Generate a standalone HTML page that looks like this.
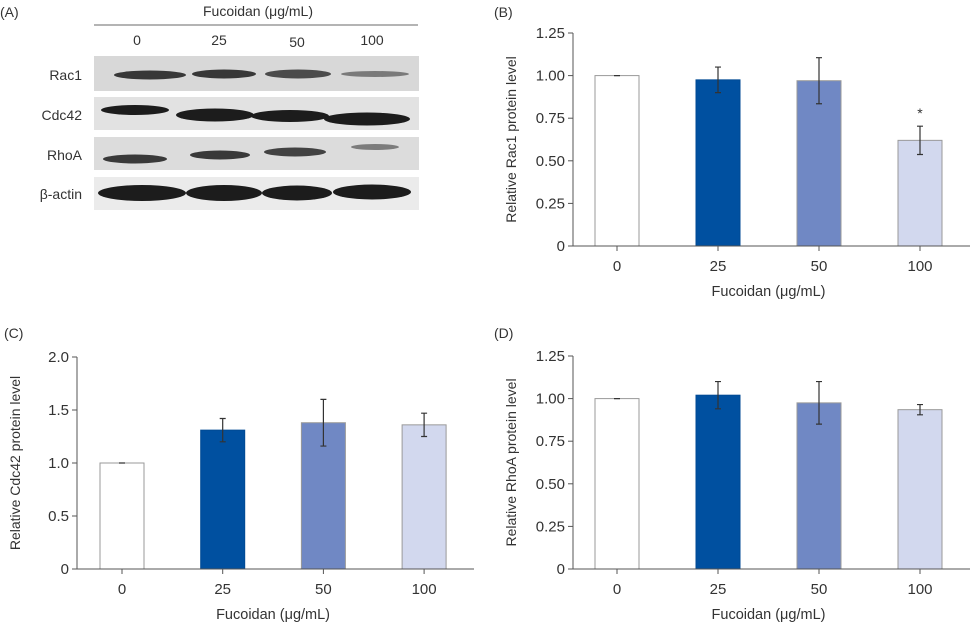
<!DOCTYPE html>
<html><head><meta charset="utf-8"><style>
body{margin:0;background:#fff;width:972px;height:624px;overflow:hidden;font-family:"Liberation Sans",sans-serif;}
svg text{font-family:"Liberation Sans",sans-serif;fill:#333;}
</style></head><body>
<svg id="fig" width="972" height="624" xmlns="http://www.w3.org/2000/svg">
<g>
<text x="0" y="17" font-size="14">(A)</text>
<text x="258" y="16" font-size="14" text-anchor="middle">Fucoidan (μg/mL)</text>
<line x1="94" y1="25" x2="418" y2="25" stroke="#888" stroke-width="1.2"/>
<text x="137" y="45" font-size="14" text-anchor="middle">0</text>
<text x="219" y="45" font-size="14" text-anchor="middle">25</text>
<text x="297" y="47" font-size="14" text-anchor="middle">50</text>
<text x="372" y="45" font-size="14" text-anchor="middle">100</text>
<text x="82" y="80" font-size="14" text-anchor="end">Rac1</text>
<text x="82" y="120" font-size="14" text-anchor="end">Cdc42</text>
<text x="82" y="160" font-size="14" text-anchor="end">RhoA</text>
<text x="82" y="199" font-size="14" text-anchor="end">β-actin</text>
<rect x="94" y="56" width="325" height="35" fill="#d8d8d8"/>
<rect x="94" y="97" width="325" height="33" fill="#e2e2e2"/>
<rect x="94" y="137" width="325" height="33" fill="#dcdcdc"/>
<rect x="94" y="177" width="325" height="33" fill="#ebebeb"/>
<g fill="#1c1c1c">
<ellipse cx="150" cy="75" rx="36" ry="4.5" opacity=".85"/>
<ellipse cx="224" cy="74" rx="32" ry="4.5" opacity=".85"/>
<ellipse cx="298" cy="74" rx="33" ry="4.5" opacity=".75"/>
<ellipse cx="375" cy="74" rx="34" ry="3" opacity=".5"/>
<ellipse cx="135" cy="110" rx="34" ry="5"/>
<ellipse cx="215" cy="115" rx="39" ry="6.5"/>
<ellipse cx="290" cy="116" rx="39" ry="6"/>
<ellipse cx="367" cy="119" rx="43" ry="6.5"/>
<ellipse cx="135" cy="159" rx="32" ry="4.5" opacity=".85"/>
<ellipse cx="220" cy="155" rx="30" ry="4.5" opacity=".85"/>
<ellipse cx="295" cy="152" rx="31" ry="4.5" opacity=".8"/>
<ellipse cx="375" cy="147" rx="24" ry="3" opacity=".5"/>
<ellipse cx="142" cy="193" rx="44" ry="8"/>
<ellipse cx="224" cy="193" rx="38" ry="8"/>
<ellipse cx="297" cy="193" rx="35" ry="7.5"/>
<ellipse cx="372" cy="192" rx="39" ry="7.5"/>
</g>
</g>
</svg>
<script>
const categories = ["0","25","50","100"];
const racValues = [1.0, 0.975, 0.97, 0.62];
const racErrors = [0, 0.075, 0.135, 0.083];
const cdcValues = [1.0, 1.31, 1.38, 1.36];
const cdcErrors = [0, 0.11, 0.22, 0.11];
const rhoValues = [1.0, 1.02, 0.975, 0.935];
const rhoErrors = [0, 0.08, 0.125, 0.03];
const tickB = ["0","0.25","0.50","0.75","1.00","1.25"];
const tickC = ["0","0.5","1.0","1.5","2.0"];
const colors = ["#ffffff","#0050a0","#7088c4","#d2d8ee"];
const NS = "http://www.w3.org/2000/svg";
const svg = document.getElementById('fig');
function mk(tag, attrs, parent){const e=document.createElementNS(NS,tag);for(const k in attrs)e.setAttribute(k,attrs[k]);parent.appendChild(e);return e;}
function chart(p){
  const g = mk('g',{},svg);
  
  
  const ymax = p.max;
  const y = v => p.y0 - (v/ymax)*(p.y0-p.yTop);
  const x = i => p.x0 + i*p.step;
  let t = mk('text',{x:p.labelX,y:p.labelY,'font-size':14},g); t.textContent='('+p.id.toUpperCase()+')';
  
  
  p.ticks.forEach((lab,i)=>{
    const v = ymax*i/(p.ticks.length-1);
    const l = mk('line',{x1:p.ax-5,x2:p.ax,y1:y(v),y2:y(v),stroke:'#555'},g);
    
    
    const tt = mk('text',{x:p.ax-8,y:y(v)+5,'font-size':15,'text-anchor':'end'},g); tt.textContent=lab;
    
    
  });
  categories.forEach((c,i)=>{
    const v=p.vals[i], e=p.errs[i], cx=x(i);
    const r = mk('rect',{x:cx-22,y:y(v),width:44,height:p.y0-y(v),fill:colors[i],stroke:i==1?'#004a94':'#999','stroke-width':1},g);
    
    
    const eb = mk('path',{d:`M${cx-3},${y(v+e)}H${cx+3}M${cx},${y(v+e)}V${y(v-e)}M${cx-3},${y(v-e)}H${cx+3}`,stroke:'#333',fill:'none','stroke-width':1.2},g);
    
    
    const tk = mk('line',{x1:cx,x2:cx,y1:p.y0,y2:p.y0+5,stroke:'#555'},g);
    
    
    const tl = mk('text',{x:cx,y:p.y0+25,'font-size':15,'text-anchor':'middle'},g); tl.textContent=c;
    
    
    if(p.star && p.star[i]){
      const s = mk('text',{x:cx,y:y(v+e)-8,'font-size':14,'text-anchor':'middle'},g); s.textContent='*';
      
      
    }
  });
  const ya = mk('line',{x1:p.ax,x2:p.ax,y1:p.yTop,y2:p.y0,stroke:'#555'},g);
  
  
  const xa = mk('line',{x1:p.ax-5,x2:p.xEnd,y1:p.y0,y2:p.y0,stroke:'#555'},g);
  
  
  const xt = mk('text',{x:(x(0)+x(3))/2,y:p.y0+50,'font-size':14.5,'text-anchor':'middle'},g); xt.textContent='Fucoidan (μg/mL)';
  
  
  const yt = mk('text',{x:0,y:0,'font-size':14,'text-anchor':'middle',transform:`translate(${p.ylx},${(p.y0+p.yTop)/2}) rotate(-90)`},g); yt.textContent=p.ytitle;
  
  
}
chart({id:'b',labelX:494,labelY:17,ax:573,x0:617,step:101,xEnd:970,y0:246,yTop:33,max:1.25,ticks:tickB,vals:racValues,errs:racErrors,ytitle:'Relative Rac1 protein level',ylx:516,star:[0,0,0,1]});
chart({id:'c',labelX:4,labelY:338,ax:77,x0:122,step:100.7,xEnd:474,y0:569,yTop:357,max:2.0,ticks:tickC,vals:cdcValues,errs:cdcErrors,ytitle:'Relative Cdc42 protein level',ylx:20});
chart({id:'d',labelX:494,labelY:338,ax:573,x0:617,step:101,xEnd:970,y0:569,yTop:356,max:1.25,ticks:tickB,vals:rhoValues,errs:rhoErrors,ytitle:'Relative RhoA protein level',ylx:516});
</script>
</body></html>
